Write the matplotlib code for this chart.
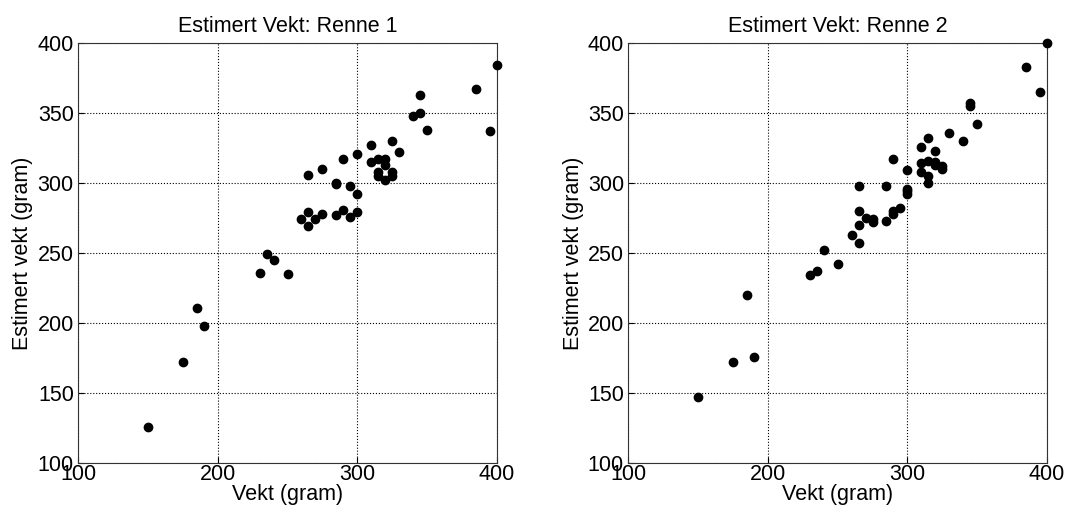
import matplotlib
matplotlib.use("Agg")
import matplotlib.pyplot as plt

plt.rcParams['font.family'] = ['Liberation Sans', 'DejaVu Sans']

# Renne 1: vekt vs estimert vekt
vekt1 = [400, 385, 345, 345, 340, 350, 395, 325, 310, 330, 300, 290, 310, 315, 320,
         320, 275, 265, 315, 315, 325, 325, 320, 285, 285, 295, 300, 265, 290, 300,
         275, 285, 295, 260, 270, 265, 235, 240, 230, 250, 185, 190, 175, 150]
est1 = [384, 367, 363, 350, 348, 338, 337, 330, 327, 322, 321, 317, 315, 317, 317,
        313, 310, 306, 308, 305, 308, 305, 302, 300, 299, 298, 292, 279, 281, 279,
        278, 277, 276, 274, 274, 269, 249, 245, 236, 235, 211, 198, 172, 126]

# Renne 2
vekt2 = [400, 385, 395, 345, 345, 350, 330, 340, 315, 310, 320, 290, 310, 315, 320,
         320, 325, 325, 300, 310, 315, 315, 265, 285, 300, 300, 300, 265, 295, 290,
         290, 270, 275, 275, 285, 265, 260, 265, 240, 250, 235, 230, 185, 190, 175, 150]
est2 = [400, 383, 365, 357, 355, 342, 336, 330, 332, 326, 323, 317, 314, 316, 315,
        313, 312, 310, 309, 308, 305, 300, 298, 298, 296, 294, 292, 280, 282, 280,
        278, 275, 274, 272, 273, 270, 263, 257, 252, 242, 237, 234, 220, 176, 172, 147]

fig = plt.figure(figsize=(10.7, 5.16), dpi=100)
ax1 = fig.add_axes([0.0729, 0.1027, 0.3916, 0.814])
ax2 = fig.add_axes([0.587, 0.1027, 0.3916, 0.814])

for ax, x, y, title in [(ax1, vekt1, est1, 'Estimert Vekt: Renne 1'),
                        (ax2, vekt2, est2, 'Estimert Vekt: Renne 2')]:
    ax.plot(x, y, 'o', color='black', markersize=6, clip_on=False, zorder=3)
    ax.set_xlim(100, 400)
    ax.set_ylim(100, 400)
    ax.set_xticks([100, 200, 300, 400])
    ax.set_yticks([100, 150, 200, 250, 300, 350, 400])
    ax.grid(True, linestyle=':', color='black', linewidth=0.8)
    ax.set_axisbelow(True)
    ax.tick_params(direction='in', labelsize=15.5, length=4)
    ax.tick_params(axis='x', pad=1)
    ax.tick_params(axis='y', pad=3)
    ax.set_title(title, fontsize=15.5, pad=8)
    ax.set_xlabel('Vekt (gram)', fontsize=15.5, labelpad=-1)
    ax.set_ylabel('Estimert vekt (gram)', fontsize=15.5, labelpad=3)
    for s in ax.spines.values():
        s.set_color('#333333')

fig.savefig('out.png', dpi=100)
